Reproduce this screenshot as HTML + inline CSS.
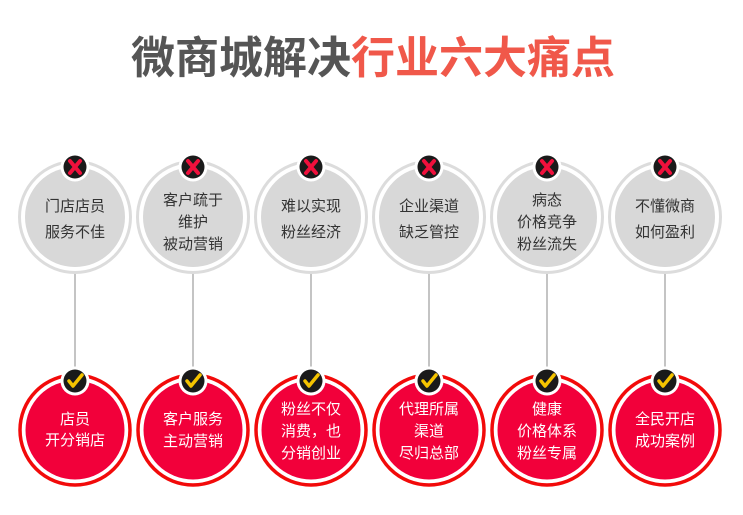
<!DOCTYPE html>
<html><head><meta charset="utf-8"><style>
html,body{margin:0;padding:0;background:#fff;width:743px;height:515px;overflow:hidden}
svg{display:block}
text{font-family:"Liberation Sans","Noto Sans CJK SC",sans-serif}
</style></head><body>
<svg width="743" height="515" viewBox="0 0 743 515" xmlns="http://www.w3.org/2000/svg">
<text x="373" y="73" text-anchor="middle" font-size="44" font-weight="bold"><tspan fill="#555">微商城解决</tspan><tspan fill="#f0584a">行业六大痛点</tspan></text>
<defs>
<g id="top">
<line x1="0" y1="56" x2="0" y2="150" stroke="#888" stroke-width="1"/>
<circle r="55.5" fill="#fff" stroke="#dcdcdc" stroke-width="3"/>
<circle r="50" fill="#d8d8d8"/>
<circle cy="-50" r="14.5" fill="#fff"/>
<circle cy="-50" r="11.5" fill="#1a1a1a"/>
<path d="M-5,-56 L5,-44 M5,-56 L-5,-44" stroke="#f0103c" stroke-width="4" stroke-linecap="round"/>
</g>
<g id="bot">
<circle r="55" fill="#fff" stroke="#f20a0a" stroke-width="3.5"/>
<circle r="49.5" fill="#f2003a"/>
<circle cy="-49" r="14.5" fill="#fff"/>
<circle cy="-49" r="11.5" fill="#1a1a1a"/>
<path d="M-6,-49 L-2,-44 L7,-55" stroke="#f5c400" stroke-width="3.5" fill="none" stroke-linecap="round" stroke-linejoin="round"/>
</g>
</defs>
<g font-size="15" fill="#333" text-anchor="middle">
<use href="#top" x="75" y="217"/>
<use href="#top" x="193" y="217"/>
<use href="#top" x="311" y="217"/>
<use href="#top" x="429" y="217"/>
<use href="#top" x="547" y="217"/>
<use href="#top" x="665" y="217"/>
<use href="#bot" x="75" y="430"/>
<use href="#bot" x="193" y="430"/>
<use href="#bot" x="311" y="430"/>
<use href="#bot" x="429" y="430"/>
<use href="#bot" x="547" y="430"/>
<use href="#bot" x="665" y="430"/>
<text x="75" y="211">门店店员</text><text x="75" y="237">服务不佳</text>
<text x="193" y="205">客户疏于</text><text x="193" y="227">维护</text><text x="193" y="249">被动营销</text>
<text x="311" y="211">难以实现</text><text x="311" y="237">粉丝经济</text>
<text x="429" y="211">企业渠道</text><text x="429" y="237">缺乏管控</text>
<text x="547" y="205">病态</text><text x="547" y="227">价格竞争</text><text x="547" y="249">粉丝流失</text>
<text x="665" y="211">不懂微商</text><text x="665" y="237">如何盈利</text>
</g>
<g font-size="15" fill="#fff" text-anchor="middle">
<text x="75" y="424">店员</text><text x="75" y="445">开分销店</text>
<text x="193" y="424">客户服务</text><text x="193" y="446">主动营销</text>
<text x="311" y="414">粉丝不仅</text><text x="311" y="436">消费，也</text><text x="311" y="458">分销创业</text>
<text x="429" y="414">代理所属</text><text x="429" y="436">渠道</text><text x="429" y="458">尽归总部</text>
<text x="547" y="414">健康</text><text x="547" y="436">价格体系</text><text x="547" y="458">粉丝专属</text>
<text x="665" y="424">全民开店</text><text x="665" y="446">成功案例</text>
</g>
</svg>
</body></html>
